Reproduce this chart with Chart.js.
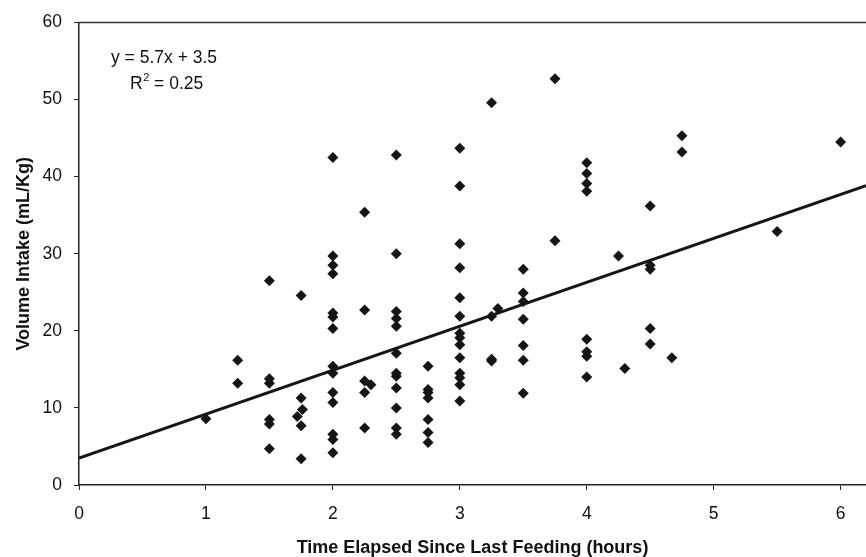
<!DOCTYPE html>
<html>
<head>
<meta charset="utf-8">
<script src="https://cdn.jsdelivr.net/npm/chart.js@4.4.1/dist/chart.umd.min.js"></script>
<style>
  html, body { margin: 0; padding: 0; background: #fff; }
  #wrap { width: 866px; height: 557px; }
</style>
</head>
<body>
<div id="wrap"><canvas id="chartFeeding" width="866" height="557"></canvas></div>
<script>
// hours since last feeding, one entry per infant
const hours = [
  1,
  1.25, 1.25,
  1.5, 1.5, 1.5, 1.5, 1.5, 1.5,
  1.75, 1.75, 1.72, 1.76, 1.75, 1.75,
  2, 2, 2, 2, 2, 2, 2, 2, 2, 2, 2, 2, 2, 2,
  2.25, 2.25, 2.25, 2.3, 2.25, 2.25,
  2.5, 2.5, 2.5, 2.5, 2.5, 2.5, 2.5, 2.5, 2.5, 2.5, 2.5, 2.5,
  2.75, 2.75, 2.75, 2.75, 2.75, 2.75, 2.75,
  3, 3, 3, 3, 3, 3, 3, 3, 3, 3, 3, 3, 3, 3,
  3.25, 3.25, 3.3, 3.25, 3.25,
  3.5, 3.5, 3.5, 3.5, 3.5, 3.5, 3.5,
  3.75, 3.75,
  4, 4, 4, 4, 4, 4, 4, 4,
  4.25, 4.3,
  4.5, 4.5, 4.5, 4.5, 4.5,
  4.67,
  4.75, 4.75,
  5.5,
  6
];

// volume intake (mL/Kg), same order as hours
const intake = [
  8.6,
  16.2, 13.2,
  26.5, 13.8, 13.2, 8.5, 7.9, 4.7,
  24.6, 11.3, 8.9, 9.8, 7.7, 3.4,
  42.5, 29.7, 28.5, 27.4, 22.3, 21.8, 20.3, 15.4, 14.5, 12.0, 10.7, 6.6, 5.9, 4.2,
  35.4, 22.7, 13.5, 13.0, 12.0, 7.4,
  42.8, 30.0, 22.5, 21.6, 20.6, 17.1, 14.5, 14.1, 12.6, 10.0, 7.4, 6.6,
  15.4, 12.4, 12.0, 11.3, 8.5, 6.8, 5.5,
  43.7, 38.8, 31.3, 28.2, 24.3, 21.9, 19.7, 19.1, 18.2, 16.5, 14.5, 13.9, 13.0, 10.9,
  49.6, 21.9, 22.9, 16.3, 16.1,
  28.0, 24.9, 23.8, 21.5, 18.1, 16.2, 11.9,
  52.7, 31.7,
  41.8, 40.4, 39.1, 38.1, 18.9, 17.3, 16.7, 14.0,
  29.7, 15.1,
  36.2, 28.5, 28.0, 20.3, 18.3,
  16.5,
  45.3, 43.2,
  32.9,
  44.5
];

// fitted line as printed on the chart
const slope = 5.7;
const intercept = 3.5;
const r2 = 0.25;
const xTicks = [0, 1, 2, 3, 4, 5, 6];
const yTicks = [0, 10, 20, 30, 40, 50, 60];
const xMax = 6.2;

const puntos = hours.map((h, i) => ({ x: h, y: intake[i] }));
const linea = [0, xMax].map(x => ({ x: x, y: slope * x + intercept }));

const FONT = "'Liberation Sans', Arial, sans-serif";

// top frame line + equation text
const extras = {
  id: "extras",
  afterDraw(chart) {
    const { ctx, chartArea } = chart;
    ctx.save();
    ctx.strokeStyle = "#333";
    ctx.lineWidth = 1.5;
    ctx.beginPath();
    ctx.moveTo(chartArea.left, chartArea.top);
    ctx.lineTo(chartArea.right, chartArea.top);
    ctx.stroke();

    ctx.fillStyle = "#111";
    ctx.font = "17.5px " + FONT;
    ctx.textBaseline = "alphabetic";
    ctx.fillText("y = " + slope + "x + " + intercept, 111, 63);
    ctx.fillText("R", 130, 89);
    const rw = ctx.measureText("R").width;
    ctx.font = "11px " + FONT;
    ctx.fillText("2", 130 + rw + 0.5, 81);
    const sw = ctx.measureText("2").width;
    ctx.font = "17.5px " + FONT;
    ctx.fillText(" = " + r2, 130 + rw + sw + 0.5, 89);
    ctx.restore();
  }
};

document.addEventListener("DOMContentLoaded", () => {
  const ctx = document.getElementById("chartFeeding");

  new Chart(ctx, {
    type: "scatter",
    data: {
      datasets: [
        {
          label: "Intake",
          data: puntos,
          pointStyle: "rectRot",
          pointRadius: 5.5,
          backgroundColor: "#151515",
          borderColor: "#151515",
          borderWidth: 0,
          order: 1
        },
        {
          label: "Trend",
          data: linea,
          showLine: true,
          pointRadius: 0,
          borderColor: "#151515",
          borderWidth: 3,
          order: 2
        }
      ]
    },
    options: {
      responsive: false,
      animation: false,
      devicePixelRatio: 1,
      layout: { autoPadding: false, padding: { top: 21, right: 0, bottom: 0, left: 0 } },
      plugins: {
        legend: { display: false },
        tooltip: { enabled: false }
      },
      scales: {
        x: {
          type: "linear",
          min: 0,
          max: xMax,
          afterBuildTicks: s => { s.ticks = xTicks.map(v => ({ value: v })); },
          afterFit: s => { s.height = 72; s.paddingRight = 0; s.paddingLeft = 0; },
          border: { display: true, color: "#222", width: 1.5 },
          grid: { drawOnChartArea: false, drawTicks: true, tickLength: 5, color: "#222" },
          ticks: { color: "#111", font: { family: FONT, size: 17.5 }, padding: 14, maxRotation: 0 },
          title: {
            display: true,
            text: "Time Elapsed Since Last Feeding (hours)",
            color: "#111",
            font: { family: FONT, size: 18, weight: "bold" },
            padding: { top: 0, bottom: -2 }
          }
        },
        y: {
          type: "linear",
          min: 0,
          max: 60,
          afterBuildTicks: s => { s.ticks = yTicks.map(v => ({ value: v })); },
          afterFit: s => { s.width = 79; },
          border: { display: true, color: "#222", width: 1.5 },
          grid: { drawOnChartArea: false, drawTicks: true, tickLength: 5, color: "#222" },
          ticks: { color: "#111", font: { family: FONT, size: 17.5 }, padding: 12 },
          title: {
            display: true,
            text: "Volume Intake (mL/Kg)",
            color: "#111",
            font: { family: FONT, size: 18, weight: "bold" },
            padding: { top: 13, bottom: 0 }
          }
        }
      }
    },
    plugins: [extras]
  });
});
</script>
</body>
</html>
